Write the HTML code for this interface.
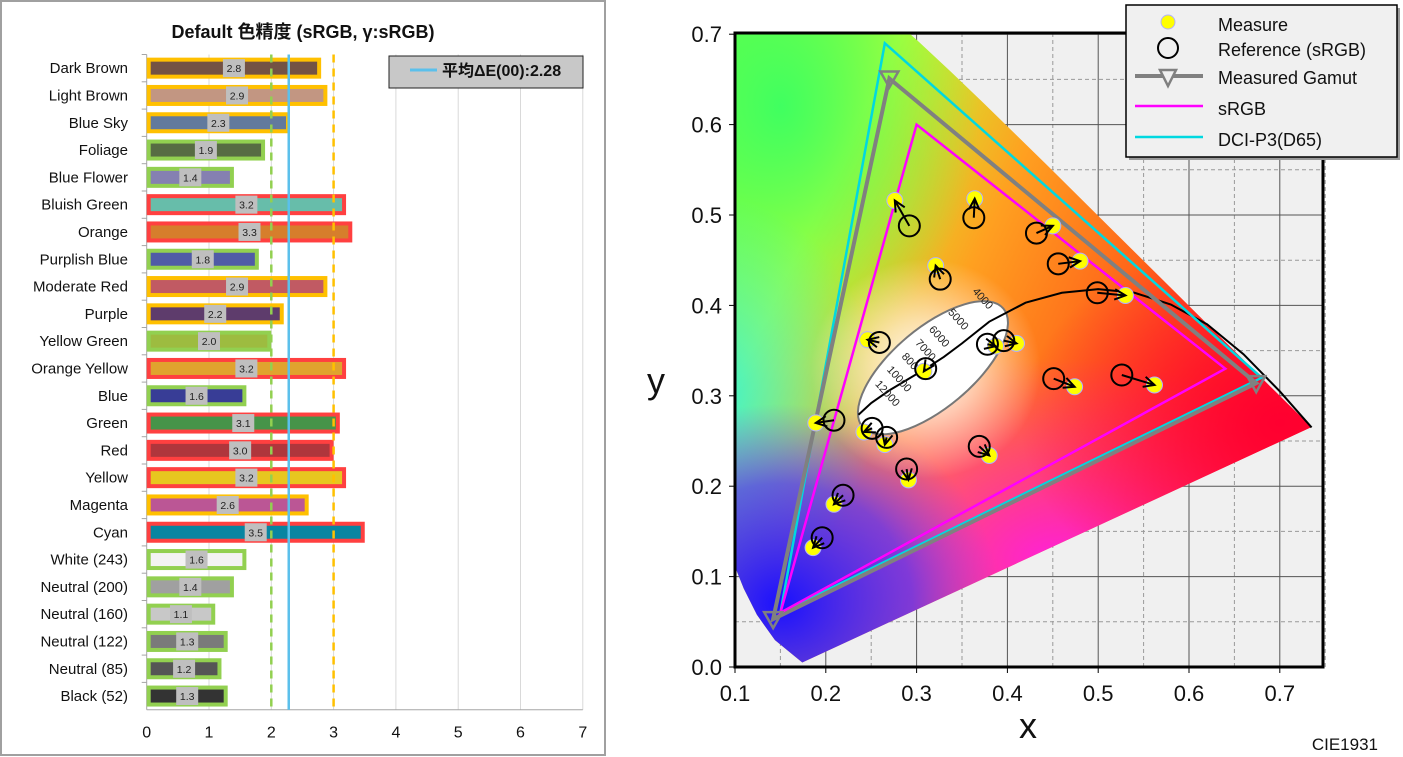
<!DOCTYPE html>
<html><head><meta charset="utf-8"><style>
html,body{margin:0;padding:0;background:#fff;width:1403px;height:757px;overflow:hidden;}
svg{display:block;font-family:"Liberation Sans","Noto Sans CJK JP",sans-serif;}
</style></head><body>
<svg id="root" width="1403" height="757" viewBox="0 0 1403 757" xmlns="http://www.w3.org/2000/svg">
<defs>
<clipPath id="plotClip"><rect x="735" y="33" width="588" height="634"/></clipPath>
<clipPath id="locusClip"><polygon id="locusClipPoly" points=""/></clipPath>
<linearGradient id="gBase" x1="0" y1="0" x2="1" y2="0.5">
<stop offset="0" stop-color="#30ff40"/><stop offset="0.35" stop-color="#c8ff30"/><stop offset="0.55" stop-color="#ffa020"/><stop offset="1" stop-color="#ff1010"/></linearGradient>
<radialGradient id="gBlue" cx="0.5" cy="0.5" r="0.5"><stop offset="0" stop-color="#1a10ff" stop-opacity="1"/><stop offset="0.6" stop-color="#4a30ff" stop-opacity="0.7"/><stop offset="1" stop-color="#8040ff" stop-opacity="0"/></radialGradient>
<radialGradient id="gCyan" cx="0.5" cy="0.5" r="0.5"><stop offset="0" stop-color="#30f0e0" stop-opacity="0.95"/><stop offset="1" stop-color="#30f0e0" stop-opacity="0"/></radialGradient>
<radialGradient id="gMag" cx="0.5" cy="0.5" r="0.5"><stop offset="0" stop-color="#ff20e0" stop-opacity="0.95"/><stop offset="1" stop-color="#ff20c0" stop-opacity="0"/></radialGradient>
<radialGradient id="gRed" cx="0.5" cy="0.5" r="0.5"><stop offset="0" stop-color="#ff0030" stop-opacity="1"/><stop offset="1" stop-color="#ff0040" stop-opacity="0"/></radialGradient>
<radialGradient id="gWhite" cx="0.5" cy="0.5" r="0.5"><stop offset="0" stop-color="#ffffff" stop-opacity="1"/><stop offset="0.45" stop-color="#ffffff" stop-opacity="0.6"/><stop offset="1" stop-color="#ffffff" stop-opacity="0"/></radialGradient>
<radialGradient id="gGreen" cx="0.5" cy="0.5" r="0.5"><stop offset="0" stop-color="#40ff60" stop-opacity="1"/><stop offset="1" stop-color="#40ff60" stop-opacity="0"/></radialGradient>
</defs>
<rect x="1" y="1" width="604" height="754" fill="#fff" stroke="#a0a0a0" stroke-width="2"/>
<text x="303" y="38" font-size="18" font-weight="bold" text-anchor="middle" fill="#111">Default 色精度 (sRGB, γ:sRGB)</text>
<g id="bars"></g>
<g id="cie"></g>
</svg>
<script>
// ---------- Bar chart data ----------
const categories=["Dark Brown","Light Brown","Blue Sky","Foliage","Blue Flower","Bluish Green","Orange","Purplish Blue","Moderate Red","Purple","Yellow Green","Orange Yellow","Blue","Green","Red","Yellow","Magenta","Cyan","White (243)","Neutral (200)","Neutral (160)","Neutral (122)","Neutral (85)","Black (52)"];
const deltaE=[2.8,2.9,2.3,1.9,1.4,3.2,3.3,1.8,2.9,2.2,2.0,3.2,1.6,3.1,3.0,3.2,2.6,3.5,1.6,1.4,1.1,1.3,1.2,1.3];
const patchColors=["#735244","#c29682","#627a9d","#576c43","#8580b1","#67bdaa","#d67e2c","#505ba6","#c15a63","#5e3c6c","#9dbc40","#e0a32e","#383d96","#469449","#af363c","#e7c71f","#bb5695","#0885a1","#f3f3f3","#a0a0a0","#c8c8c8","#7a7a7a","#555555","#333333"];
const xTicks=[0,1,2,3,4,5,6,7];
const avgDE=2.28;
const thresholds=[2,3];

// ---------- CIE data ----------
const locusX=[0.1741,0.1440,0.1241,0.1096,0.0913,0.0687,0.0454,0.0235,0.0082,0.0039,0.0139,0.0389,0.0743,0.1142,0.1547,0.1929,0.2296,0.2658,0.3016,0.3373,0.3731,0.4441,0.5125,0.5752,0.6270,0.6658,0.6915,0.7347];
const locusY=[0.0050,0.0297,0.0578,0.0868,0.1327,0.2007,0.2950,0.4127,0.5384,0.6548,0.7502,0.8120,0.8338,0.8262,0.8059,0.7816,0.7543,0.7243,0.6923,0.6589,0.6245,0.5547,0.4866,0.4242,0.3725,0.3340,0.3083,0.2653];
const srgbX=[0.64,0.30,0.15], srgbY=[0.33,0.60,0.06];
const p3X=[0.68,0.265,0.15], p3Y=[0.32,0.69,0.06];
const gamutX=[0.674,0.270,0.142], gamutY=[0.314,0.651,0.053];
const refX=[0.292,0.363,0.432,0.456,0.326,0.499,0.259,0.378,0.396,0.310,0.451,0.526,0.209,0.251,0.267,0.369,0.289,0.219,0.196];
const refY=[0.488,0.497,0.480,0.446,0.429,0.414,0.359,0.357,0.361,0.330,0.319,0.323,0.273,0.264,0.254,0.244,0.219,0.190,0.143];
const measX=[0.276,0.364,0.450,0.480,0.321,0.530,0.246,0.387,0.410,0.308,0.474,0.562,0.189,0.242,0.265,0.380,0.291,0.209,0.186];
const measY=[0.516,0.518,0.488,0.449,0.444,0.411,0.362,0.355,0.358,0.327,0.310,0.312,0.270,0.260,0.246,0.234,0.207,0.180,0.132];
const planckX=[0.236,0.250,0.270,0.290,0.310,0.330,0.350,0.380,0.420,0.460,0.500,0.540,0.580,0.620,0.660,0.700,0.735];
const planckY=[0.279,0.292,0.306,0.318,0.330,0.343,0.358,0.382,0.403,0.414,0.418,0.414,0.401,0.379,0.346,0.305,0.265];
const cctLabels=["4000","5000","6000","7000","8000","10000","12000"];
const cieXTicks=[0.1,0.2,0.3,0.4,0.5,0.6,0.7];
const cieYTicks=[0.0,0.1,0.2,0.3,0.4,0.5,0.6,0.7];

const NS="http://www.w3.org/2000/svg";
function mk(tag,attrs,parent){const e=document.createElementNS(NS,tag);for(const k in attrs)e.setAttribute(k,attrs[k]);parent.appendChild(e);return e;}

// ---------- Bar chart ----------
const bars=document.getElementById('bars');
const bx0=146.7, bUnit=62.3, rowTop=54.5, rowH=27.3;
const bX=v=>bx0+v*bUnit;
const rowY=i=>rowTop+(i+0.5)*rowH;
const axisBottom=rowTop+categories.length*rowH;
xTicks.forEach(t=>{
  if(t>0){const g=mk('line',{x1:bX(t),x2:bX(t),y1:rowTop,y2:axisBottom,stroke:'#d9d9d9','stroke-width':1},bars);
  }
  const tl=mk('text',{x:bX(t),y:axisBottom+28,'font-size':16,'text-anchor':'middle',fill:'#111'},bars);tl.textContent=t;
  
});
const ax=mk('line',{x1:bx0,x2:bX(7),y1:axisBottom,y2:axisBottom,stroke:'#a6a6a6','stroke-width':1},bars);

const ay=mk('line',{x1:bx0,x2:bx0,y1:rowTop,y2:axisBottom,stroke:'#a6a6a6','stroke-width':1},bars);

categories.forEach((c,i)=>{
  const tk=mk('line',{x1:bx0-5,x2:bx0,y1:rowTop+i*rowH,y2:rowTop+i*rowH,stroke:'#a6a6a6'},bars);
  
  const v=deltaE[i];
  const border=v<2.05?'#92d050':(v<3?'#ffc000':'#ff4040');
  const y=rowY(i);
  const r=mk('rect',{x:bx0+2,y:y-8.5,width:bX(v)-bx0-4,height:17,fill:patchColors[i],stroke:border,'stroke-width':4},bars);
  
  
  const mx=(bx0+bX(v))/2;
  const lb=mk('rect',{x:mx-11,y:y-9,width:22,height:18,fill:'#bfbfbf'},bars);
  
  const lt=mk('text',{x:mx,y:y+4,'font-size':10.5,'text-anchor':'middle',fill:'#222'},bars);lt.textContent=v.toFixed(1);
  
  const ct=mk('text',{x:128,y:y+5,'font-size':15,'text-anchor':'end',fill:'#111'},bars);ct.textContent=c;
  
});
const th1=mk('line',{x1:bX(thresholds[0]),x2:bX(thresholds[0]),y1:rowTop,y2:axisBottom,stroke:'#92d050','stroke-width':2.5,'stroke-dasharray':'8,6'},bars);

const th2=mk('line',{x1:bX(thresholds[1]),x2:bX(thresholds[1]),y1:rowTop,y2:axisBottom,stroke:'#ffc000','stroke-width':2.5,'stroke-dasharray':'8,6'},bars);

const avl=mk('line',{x1:bX(avgDE),x2:bX(avgDE),y1:rowTop,y2:axisBottom,stroke:'#5bc0eb','stroke-width':2.5},bars);

const lg=mk('rect',{x:389,y:56,width:194,height:32,fill:'#c8c8c8',stroke:'#222','stroke-width':1},bars);

const lgl=mk('line',{x1:410,x2:437,y1:70,y2:70,stroke:'#5bc0eb','stroke-width':3},bars);

const lgt=mk('text',{x:442,y:76,'font-size':16,'font-weight':'bold',fill:'#111'},bars);lgt.textContent='平均ΔE(00):'+avgDE.toFixed(2);


// ---------- CIE chart ----------
const cie=document.getElementById('cie');
const CX=x=>735+(x-0.1)*908;
const CY=y=>667-y*904;
const bg=mk('rect',{x:735,y:33,width:588,height:634,fill:'#f0f0f0'},cie);

for(let k=1;k<=13;k++){
  const x=0.1+k*0.05;
  const g=mk('line',{x1:CX(x),x2:CX(x),y1:33,y2:667,stroke:k%2?'#999':'#555','stroke-width':1,'stroke-dasharray':k%2?'4,3':'none'},cie);
  
}
for(let k=1;k<=14;k++){
  const y=k*0.05;
  const g=mk('line',{x1:735,x2:1323,y1:CY(y),y2:CY(y),stroke:k%2?'#999':'#555','stroke-width':1,'stroke-dasharray':k%2?'4,3':'none'},cie);
  
}
document.getElementById('locusClipPoly').setAttribute('points',locusX.map((x,i)=>CX(x)+','+CY(locusY[i])).join(' '));
const fillG=mk('g',{'clip-path':'url(#plotClip)'},cie);

const inner=mk('g',{'clip-path':'url(#locusClip)'},fillG);

mk('rect',{x:640,y:-80,width:720,height:760,fill:'url(#gBase)'},inner);
mk('ellipse',{cx:CX(0.15),cy:CY(0.62),rx:200,ry:260,fill:'url(#gGreen)'},inner);
mk('ellipse',{cx:CX(0.45),cy:CY(0.12),rx:330,ry:200,fill:'url(#gMag)'},inner);
mk('ellipse',{cx:CX(0.70),cy:CY(0.27),rx:260,ry:190,fill:'url(#gRed)'},inner);
mk('ellipse',{cx:CX(0.07),cy:CY(0.30),rx:170,ry:200,fill:'url(#gCyan)'},inner);
mk('ellipse',{cx:CX(0.15),cy:CY(0.07),rx:220,ry:200,fill:'url(#gBlue)'},inner);
mk('ellipse',{cx:CX(0.31),cy:CY(0.33),rx:115,ry:110,fill:'url(#gWhite)'},inner);
const clipG=mk('g',{'clip-path':'url(#plotClip)'},cie);

const el=mk('ellipse',{cx:CX(0.318),cy:CY(0.331),rx:92,ry:40,fill:'#fff',stroke:'#777','stroke-width':2,transform:`rotate(-40 ${CX(0.318)} ${CY(0.331)})`},clipG);

const pl=mk('polyline',{points:planckX.map((x,i)=>CX(x)+','+CY(planckY[i])).join(' '),fill:'none',stroke:'#000','stroke-width':2},clipG);

const cctPos=[[0.370,0.405],[0.343,0.382],[0.322,0.363],[0.307,0.348],[0.292,0.333],[0.278,0.316],[0.265,0.300]];
cctLabels.forEach((t,i)=>{
  const x=CX(cctPos[i][0]),y=CY(cctPos[i][1]);
  const tt=mk('text',{x:x,y:y,'font-size':11,'text-anchor':'middle',fill:'#222',transform:`rotate(48 ${x} ${y})`},clipG);tt.textContent=t;
  
});
function tri(xs,ys,col,w,name){const p=mk('polygon',{points:xs.map((x,i)=>CX(x)+','+CY(ys[i])).join(' '),fill:'none',stroke:col,'stroke-width':w,'stroke-linejoin':'miter'},clipG);}
tri(p3X,p3Y,'#00d8e0',2.5,'dci-p3-triangle');
tri(gamutX,gamutY,'#808080',4,'measured-gamut-triangle');
tri(srgbX,srgbY,'#ff00ff',2.5,'srgb-triangle');
gamutX.forEach((x,i)=>{const cx=CX(x),cy=CY(gamutY[i]);
  const m=mk('polygon',{points:`${cx-9},${cy-7} ${cx+9},${cy-7} ${cx},${cy+9}`,fill:'none',stroke:'#808080','stroke-width':2.5},clipG);
  });
refX.forEach((x,i)=>{
  const mp=mk('circle',{cx:CX(measX[i]),cy:CY(measY[i]),r:8,fill:'#ffff00',stroke:'#b0b0ff','stroke-width':1},clipG);
  
  const rc=mk('circle',{cx:CX(x),cy:CY(refY[i]),r:10.5,fill:'none',stroke:'#000','stroke-width':2},clipG);
  
  const x1=CX(x),y1=CY(refY[i]),x2=CX(measX[i]),y2=CY(measY[i]);
  const ar=mk('line',{x1:x1,y1:y1,x2:x2,y2:y2,stroke:'#000','stroke-width':2},clipG);
  
  const a=Math.atan2(y2-y1,x2-x1),L=12;
  const hd=mk('polyline',{points:`${x2-L*Math.cos(a-0.45)},${y2-L*Math.sin(a-0.45)} ${x2},${y2} ${x2-L*Math.cos(a+0.45)},${y2-L*Math.sin(a+0.45)}`,fill:'none',stroke:'#000','stroke-width':2},clipG);
  
});
const fr=mk('rect',{x:735,y:33,width:588,height:634,fill:'none',stroke:'#000','stroke-width':3},cie);

cieXTicks.forEach(t=>{
  const tk=mk('line',{x1:CX(t),x2:CX(t),y1:667,y2:673,stroke:'#000'},cie);
  
  const tl=mk('text',{x:CX(t),y:701,'font-size':22,'text-anchor':'middle',fill:'#111'},cie);tl.textContent=t.toFixed(1);
  
});
cieYTicks.forEach(t=>{
  const tk=mk('line',{x1:729,x2:735,y1:CY(t),y2:CY(t),stroke:'#000'},cie);
  
  const tl=mk('text',{x:722,y:CY(t)+8,'font-size':22,'text-anchor':'end',fill:'#111'},cie);tl.textContent=t.toFixed(1);
  
});
const xt=mk('text',{x:1028,y:738,'font-size':36,'text-anchor':'middle',fill:'#111'},cie);xt.textContent='x';

const yt=mk('text',{x:656,y:393,'font-size':36,'text-anchor':'middle',fill:'#111'},cie);yt.textContent='y';

const ct=mk('text',{x:1378,y:750,'font-size':17,'text-anchor':'end',fill:'#111'},cie);ct.textContent='CIE1931';

// legend
const lgG=mk('g',{},cie);

mk('rect',{x:1129,y:8,width:271,height:152,fill:'#999'},lgG);
mk('rect',{x:1126,y:5,width:271,height:152,fill:'#f0f0f0',stroke:'#000','stroke-width':1.5},lgG);
const lc=mk('circle',{cx:1168,cy:22,r:7,fill:'#ffff00',stroke:'#b0b0ff'},lgG);
const lr=mk('circle',{cx:1168,cy:48,r:10,fill:'none',stroke:'#000','stroke-width':2},lgG);
const lgm=mk('line',{x1:1135,x2:1203,y1:76,y2:76,stroke:'#808080','stroke-width':4},lgG);
mk('polygon',{points:'1160,70 1176,70 1168,86',fill:'#f0f0f0',stroke:'#808080','stroke-width':2.5},lgG);
const ls=mk('line',{x1:1135,x2:1203,y1:106,y2:106,stroke:'#ff00ff','stroke-width':2.5},lgG);
const lp=mk('line',{x1:1135,x2:1203,y1:137,y2:137,stroke:'#00d8e0','stroke-width':2.5},lgG);
[['Measure',31],['Reference (sRGB)',56],['Measured Gamut',84],['sRGB',115],['DCI-P3(D65)',146]].forEach(([t,y])=>{
  const e=mk('text',{x:1218,y:y,'font-size':18,fill:'#111'},lgG);e.textContent=t;
  
});
</script>
</body></html>
